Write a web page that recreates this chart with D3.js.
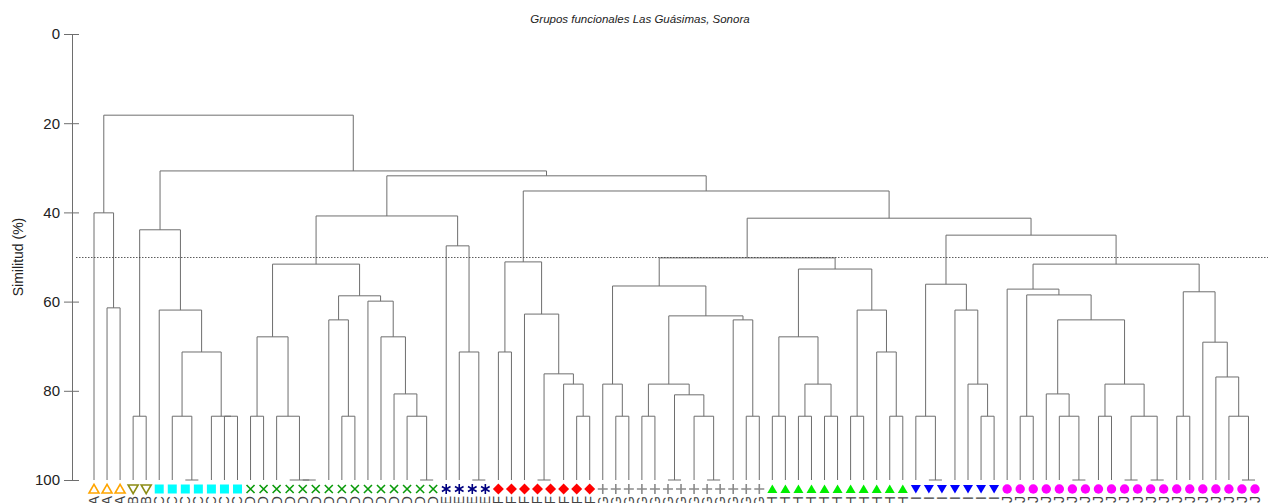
<!DOCTYPE html>
<html>
<head>
<meta charset="utf-8">
<script src="https://d3js.org/d3.v7.min.js"></script>
<style>
  html, body { margin: 0; padding: 0; background: #fff; }
  svg { display: block; font-family: "Liberation Sans", Arial, sans-serif; }
</style>
</head>
<body>
<svg id="chart" width="1268" height="503"></svg>
<script>
// Functional groups and number of sites in each (leaf order, left to right)
const groups = ["A", "B", "C", "D", "E", "F", "G", "H", "I", "J"];
const groupSizes = [3, 2, 7, 15, 4, 8, 13, 11, 7, 20];

// Agglomeration steps, hclust style: negative = leaf (1-based), positive = earlier step (1-based)
const merges = [
  [-2, -3], [-1, 1],                                   // A
  [-4, -5],                                             // B
  [-8, -9], [-7, 4], [-11, -12], [-10, 6], [5, 7], [-6, 8], [3, 9],   // C
  [-13, -14], [-17, -18], [-16, 12], [-15, 13], [11, 14],
  [-20, -21], [-19, 16], [-26, -27], [-25, 18], [-24, 19], [-23, 20], [-22, 21], [17, 22], [15, 23], // D
  [-30, -31], [-29, 25], [-28, 26],                     // E
  [24, 27],
  [-32, -33], [-35, -36], [-38, -39], [-37, 31], [30, 32], [-34, 33], [29, 34], // F
  [-41, -42], [-40, 36], [-43, -44], [-45, -46], [-48, -49], [-47, 40], [39, 41], [38, 42],
  [-51, -52], [-50, 44], [43, 45], [37, 46],            // G
  [-53, -54], [-55, -56], [-57, -58], [49, 50], [48, 51], [-59, -60], [-62, -63], [-61, 54], [53, 55], [52, 56], // H
  [47, 57],
  [-65, -66], [-64, 59], [-69, -70], [-68, 61], [-67, 62], [60, 63], // I
  [-72, -73], [-76, -77], [-75, 66], [-74, 67], [-78, -79], [-80, -81], [-82, -83], [70, 71], [69, 72],
  [68, 73], [65, 74], [-71, 75], [-84, -85], [-89, -90], [-88, 78], [-87, 79], [-86, 80], [77, 81], [76, 82], // J
  [64, 83], [58, 84], [35, 85], [28, 86], [10, 87], [2, 88]
];

// Similarity (%) at which each step joins
const mergeHeights = [
  61.4, 40.1,
  85.7,
  100, 85.7, 85.7, 85.7, 71.3, 61.9, 43.9,
  85.7, 100, 100, 85.7, 67.9,
  85.7, 64.1, 100, 85.7, 80.7, 67.9, 59.9, 58.7, 51.6,
  100, 71.3, 47.5,
  40.8,
  71.3, 100, 85.7, 78.5, 76.2, 62.8, 51.1,
  85.7, 78.5, 85.7, 100, 100, 85.7, 80.9, 78.5,
  85.7, 64.1, 63.2, 56.5,
  85.7, 85.7, 85.7, 78.5, 67.9, 85.7, 85.7, 71.3, 61.9, 52.7,
  50.2,
  100, 85.7, 85.7, 78.5, 61.9, 56.1,
  85.7, 100, 85.7, 80.7, 85.7, 100, 100, 85.7, 78.5,
  64.1, 58.5, 57.2, 85.7, 100, 85.7, 76.9, 69.1, 57.8, 51.6,
  45.1, 41.3, 35.2, 31.8, 30.7, 18.2
];

const yTicks = [0, 20, 40, 60, 80, 100];
const cutLevel = 50;
const title = "Grupos funcionales Las Guásimas, Sonora";
const yTitle = "Similitud (%)";

// ---- drawing ----
const svg = d3.select("#chart");
const leafGroup = groups.flatMap((g, i) => d3.range(groupSizes[i]).map(() => g));
const nLeaves = leafGroup.length;

const x = d3.scalePoint().domain(d3.range(nLeaves)).range([94, 1255]);
const y = d3.scaleLinear().domain([0, 100]).range([34, 480]);

// marker style per group
const markerStyle = {
  A: { shape: "triUp",   color: "#ffa500", fill: false },
  B: { shape: "triDown", color: "#8c8c14", fill: false },
  C: { shape: "square",  color: "#00ffff", fill: true },
  D: { shape: "cross",   color: "#0a9a0a", fill: false },
  E: { shape: "star",    color: "#000080", fill: false },
  F: { shape: "diamond", color: "#ff0000", fill: true },
  G: { shape: "plus",    color: "#8a8a8a", fill: false },
  H: { shape: "triUp",   color: "#00ee00", fill: true },
  I: { shape: "triDown", color: "#0000ff", fill: true },
  J: { shape: "circle",  color: "#ff00ff", fill: true }
};

function markerPath(shape) {
  const p = d3.path();
  switch (shape) {
    case "triUp":   p.moveTo(0, -4.6); p.lineTo(5, 4); p.lineTo(-5, 4); p.closePath(); break;
    case "triDown": p.moveTo(0, 4.6); p.lineTo(5, -4); p.lineTo(-5, -4); p.closePath(); break;
    case "square":  p.rect(-4.5, -4.5, 9, 9); break;
    case "cross":   p.moveTo(-4, -4); p.lineTo(4, 4); p.moveTo(4, -4); p.lineTo(-4, 4); break;
    case "star":
      p.moveTo(0, -5); p.lineTo(0, 5);
      p.moveTo(-4.3, -2.5); p.lineTo(4.3, 2.5);
      p.moveTo(4.3, -2.5); p.lineTo(-4.3, 2.5); break;
    case "diamond": p.moveTo(0, -5.5); p.lineTo(5.5, 0); p.lineTo(0, 5.5); p.lineTo(-5.5, 0); p.closePath(); break;
    case "plus":    p.moveTo(-5, 0); p.lineTo(5, 0); p.moveTo(0, -5); p.lineTo(0, 5); break;
    case "circle":  p.arc(0, 0, 4.7, 0, 2 * Math.PI); break;
  }
  return p.toString();
}

// node positions: leaves at 100 %, merges at their midpoint
const nodeX = [], nodeH = [];
function pos(ref) {
  return ref < 0 ? { x: x(-ref - 1), h: 100 } : { x: nodeX[ref - 1], h: nodeH[ref - 1] };
}
const links = merges.map(([a, b], i) => {
  const pa = pos(a), pb = pos(b);
  nodeX[i] = (pa.x + pb.x) / 2;
  nodeH[i] = mergeHeights[i];
  return { pa, pb, h: mergeHeights[i] };
});

const tree = svg.append("g")
  .attr("fill", "none")
  .attr("stroke", "#6e6e6e")
  .attr("stroke-width", 1);

tree.selectAll("path")
  .data(links)
  .join("path")
  .attr("d", d => {
    const p = d3.path();
    p.moveTo(d.pa.x, y(d.pa.h));
    p.lineTo(d.pa.x, y(d.h));
    p.lineTo(d.pb.x, y(d.h));
    p.lineTo(d.pb.x, y(d.pb.h));
    return p.toString();
  });

// cut level
svg.append("line")
  .attr("x1", 76).attr("x2", 1268)
  .attr("y1", Math.round(y(cutLevel)) + 0.5).attr("y2", Math.round(y(cutLevel)) + 0.5)
  .attr("stroke", "#333").attr("stroke-width", 0.8)
  .attr("stroke-dasharray", "1.5,1.5");

// y axis
const axis = svg.append("g")
  .attr("transform", "translate(72,0)")
  .call(d3.axisLeft(y).tickValues(yTicks).tickSize(8).tickPadding(4));
axis.select(".domain").attr("stroke", "#6e6e6e").attr("d", `M0.5,${y(0)}V${y(100)}`);
axis.selectAll(".tick line").attr("stroke", "#6e6e6e").attr("x1", 7);
axis.selectAll(".tick text")
  .attr("font-size", 15)
  .attr("fill", "#222")
  .attr("font-family", "'Liberation Sans', Arial, sans-serif");

// leaf markers
const leaves = svg.append("g");
leaves.selectAll("path")
  .data(leafGroup)
  .join("path")
  .attr("transform", (g, i) => `translate(${x(i)},489)`)
  .attr("d", g => markerPath(markerStyle[g].shape))
  .attr("fill", g => markerStyle[g].fill ? markerStyle[g].color : "none")
  .attr("stroke", g => markerStyle[g].color)
  .attr("stroke-width", g => markerStyle[g].fill ? 0 : 1.6);

// leaf labels (rotated, reading bottom to top)
svg.append("g")
  .selectAll("text")
  .data(leafGroup)
  .join("text")
  .attr("transform", (g, i) => `translate(${x(i)},496) rotate(-90)`)
  .attr("text-anchor", "end")
  .attr("dy", "0.35em")
  .attr("font-size", 14)
  .attr("fill", "#444")
  .text(g => g);

// titles
svg.append("text")
  .attr("x", 640).attr("y", 23)
  .attr("text-anchor", "middle")
  .attr("font-size", 11.5)
  .attr("font-style", "italic")
  .attr("fill", "#222")
  .text(title);

svg.append("text")
  .attr("transform", `translate(23,${y(50)}) rotate(-90)`)
  .attr("text-anchor", "middle")
  .attr("font-size", 14)
  .attr("fill", "#222")
  .text(yTitle);
</script>
</body>
</html>
